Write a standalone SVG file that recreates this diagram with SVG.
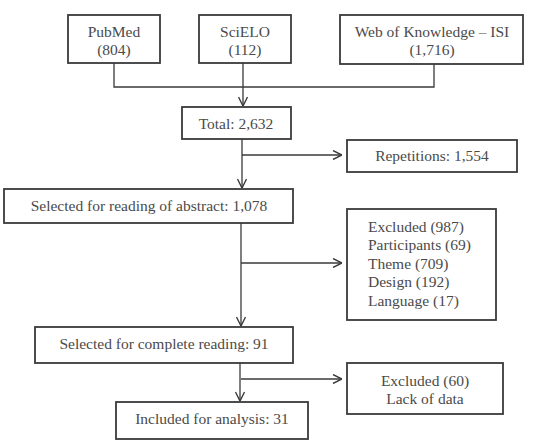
<svg xmlns="http://www.w3.org/2000/svg" width="537" height="446" viewBox="0 0 537 446">
<style>
.box{fill:#fff;stroke:#3a3a3a;stroke-width:1.8}
.t{font-family:"Liberation Serif",serif;font-size:15.5px;fill:#4a4a4a;text-anchor:middle;dominant-baseline:central}
.tl{font-family:"Liberation Serif",serif;font-size:15.5px;fill:#4a4a4a;dominant-baseline:central}
.c{fill:none;stroke:#3a3a3a;stroke-width:1.3}
</style>
<defs>
<marker id="ah" viewBox="0 0 10 10" refX="10" refY="5" markerWidth="10" markerHeight="10" markerUnits="userSpaceOnUse" orient="auto">
<path d="M1,0.5 L10,5 L1,9.5" fill="none" stroke="#3a3a3a" stroke-width="1.4"/>
</marker>
</defs>
<rect width="537" height="446" fill="#fff"/>
<g id="connectors">
<path class="c" d="M114,63 V87 H434 V64"/>
<path class="c" d="M243,63 V106" marker-end="url(#ah)"/>
<path class="c" d="M242,139 V188" marker-end="url(#ah)"/>
<path class="c" d="M242,155 H342" marker-end="url(#ah)"/>
<path class="c" d="M241,223 V326" marker-end="url(#ah)"/>
<path class="c" d="M241,263 H342" marker-end="url(#ah)"/>
<path class="c" d="M240,363 V401" marker-end="url(#ah)"/>
<path class="c" d="M241,379 H342" marker-end="url(#ah)"/>
</g>
<g id="pubmed"><rect class="box" x="68" y="15" width="92" height="48"/><text class="t" x="114" y="31">PubMed</text><text class="t" x="114" y="49">(804)</text></g>
<g id="scielo"><rect class="box" x="199" y="15" width="92" height="48"/><text class="t" x="245" y="31">SciELO</text><text class="t" x="245" y="49">(112)</text></g>
<g id="wok"><rect class="box" x="340" y="15" width="183" height="49"/><text class="t" x="432" y="31">Web of Knowledge – ISI</text><text class="t" x="432" y="49">(1,716)</text></g>
<g id="total"><rect class="box" x="182" y="107" width="109" height="32"/><text class="t" x="236" y="123">Total: 2,632</text></g>
<g id="repetitions"><rect class="box" x="347" y="140" width="170" height="32"/><text class="t" x="432" y="155">Repetitions: 1,554</text></g>
<g id="abstract"><rect class="box" x="4" y="189" width="289" height="34"/><text class="t" x="149" y="205">Selected for reading of abstract: 1,078</text></g>
<g id="excluded1"><rect class="box" x="347" y="209" width="149" height="111"/>
<text class="tl" x="368" y="226">Excluded (987)</text>
<text class="tl" x="368" y="244">Participants (69)</text>
<text class="tl" x="368" y="263">Theme (709)</text>
<text class="tl" x="368" y="281">Design (192)</text>
<text class="tl" x="368" y="300">Language (17)</text></g>
<g id="complete"><rect class="box" x="35" y="327" width="258" height="36"/><text class="t" x="164" y="343">Selected for complete reading: 91</text></g>
<g id="excluded2"><rect class="box" x="347" y="363" width="156" height="51"/><text class="t" x="425" y="380">Excluded (60)</text><text class="t" x="425" y="398">Lack of data</text></g>
<g id="included"><rect class="box" x="116" y="402" width="192" height="37"/><text class="t" x="212" y="418">Included for analysis: 31</text></g>
</svg>
